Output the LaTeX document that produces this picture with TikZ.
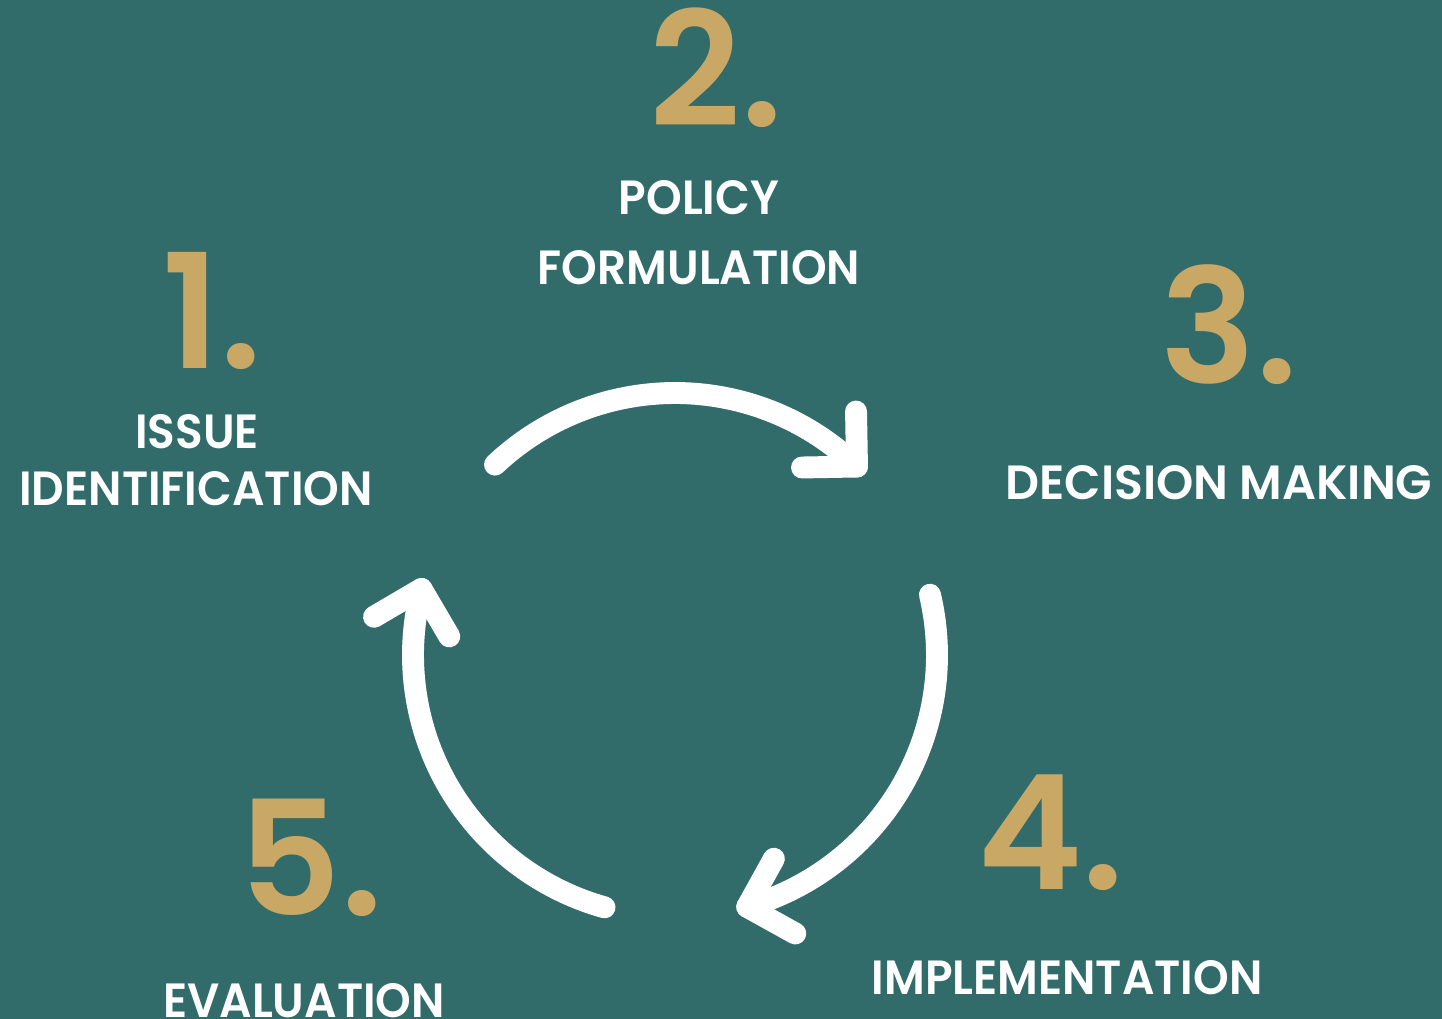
\documentclass[tikz,border=0pt]{standalone}
\usepackage{graphicx}
\usepackage{fontspec}
\setmainfont{Poppins}
\newfontfamily\labelfont[FakeStretch=0.945]{Poppins SemiBold}
\newfontfamily\numfont{Poppins SemiBold}
\usetikzlibrary{calc}
\definecolor{bgteal}{RGB}{49,107,106}
\definecolor{gold}{RGB}{201,168,101}
\begin{document}
\begin{tikzpicture}[x=0.03cm,y=-0.03cm,
  steplabel/.style={text=white,font=\labelfont\fontsize{41}{48}\selectfont,inner sep=0pt},
  stepnum/.style={text=gold,font=\numfont\fontsize{136}{150}\selectfont,inner sep=0pt},
  cyclearrow/.style={draw=white,line width=18.7pt,line cap=round,line join=round}]
% background
\fill[bgteal] (0,0) rectangle (1442,1019);
\useasboundingbox (0,0) rectangle (1442,1019);

% cycle arrows on a common circle
\coordinate (c) at (675,655);
\draw[cyclearrow] plot[smooth,domain=-133.4:-46,samples=60] ({675+262*cos(\x)},{655+262*sin(\x)});
\coordinate (t1) at ({675+262*cos(-46)},{655+262*sin(-46)});
\draw[cyclearrow] ($(t1)+(269:55)$) -- (t1) -- ($(t1)+(179:55)$);

\draw[cyclearrow] plot[smooth,domain=-13.3:74,samples=60] ({675+262*cos(\x)},{655+262*sin(\x)});
\coordinate (t2) at ({675+262*cos(74)},{655+262*sin(74)});
\draw[cyclearrow] ($(t2)+(299:55)$) -- (t2) -- ($(t2)+(29:55)$);

\draw[cyclearrow] plot[smooth,domain=105.6:194.6,samples=60] ({675+262*cos(\x)},{655+262*sin(\x)});
\coordinate (t3) at ({675+262*cos(194.6)},{655+262*sin(194.6)});
\draw[cyclearrow] ($(t3)+(59.6:55)$) -- (t3) -- ($(t3)+(149.6:55)$);

% step numbers
\node[stepnum] (n1) at (212,311) {1.};
\node[stepnum] (n2) at (716,68) {2.};
\node[stepnum] (n3) at (1229,325) {3.};
\node[stepnum] (n4) at (1051,833) {4.};
\node[stepnum] (n5) at (311,858) {5.};

% step labels
\node[steplabel] (l1a) at (197,432) {ISSUE};
\node[steplabel] (l1b) at (196,489) {IDENTIFICATION};
\node[steplabel] (l2a) at (699,198) {POLICY};
\node[steplabel] (l2b) at (699,268) {FORMULATION};
\node[steplabel] (l3) at (1219,483) {\scalebox{1.045}[1]{DECISION MAKING}};
\node[steplabel] (l4) at (1067,978) {IMPLEMENTATION};
\node[steplabel] (l5) at (304,1001) {EVALUATION};
\end{tikzpicture}
\end{document}
